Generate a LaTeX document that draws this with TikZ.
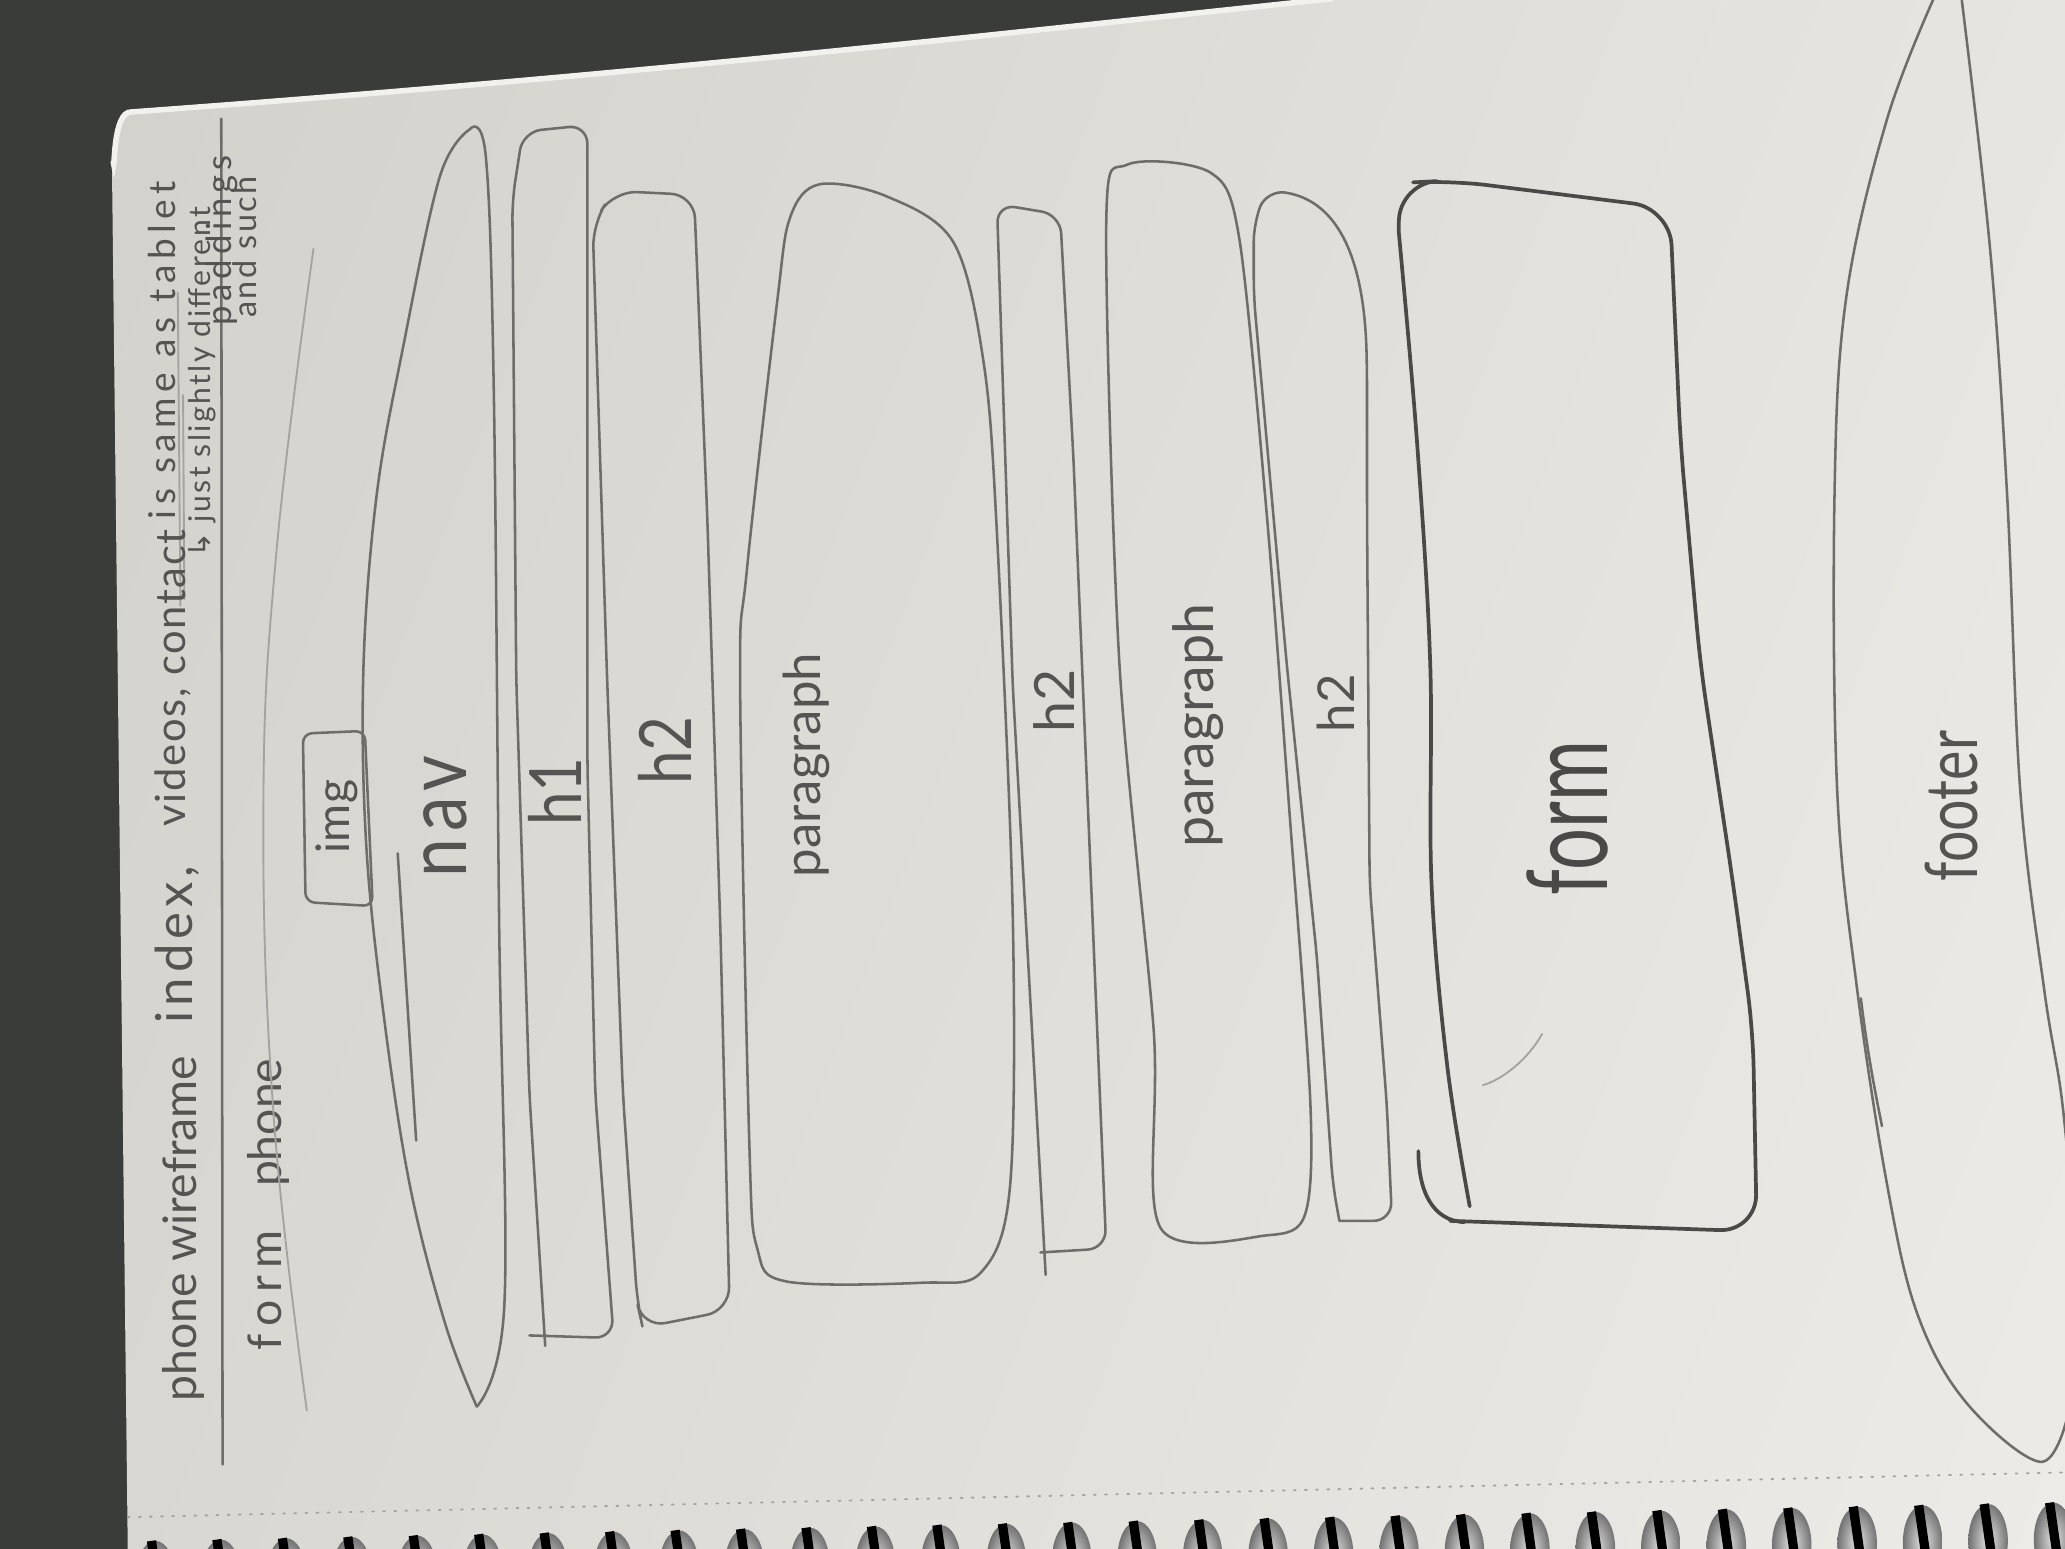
\documentclass[tikz,border=0pt]{standalone}
\usepackage{fontspec}
\setmainfont{Lato}
\newfontfamily\symfont{DejaVu Sans}
\usetikzlibrary{positioning, shadings}

\definecolor{desk}{HTML}{3A3C39}
\definecolor{paperA}{HTML}{D3D1CC}
\definecolor{paperB}{HTML}{E6E5E1}
\definecolor{paperC}{HTML}{D9D7D2}
\definecolor{paperD}{HTML}{ECEBE7}
\definecolor{pencil}{HTML}{6E6D6A}
\definecolor{pencilfaint}{HTML}{A5A39F}
\definecolor{pencildark}{HTML}{4A4947}
\definecolor{ink}{HTML}{555452}

\newcommand{\hand}[2]{\fontsize{#1}{#1}\selectfont\addfontfeatures{LetterSpace=#2}}

\tikzset{
  pencil/.style = {draw=pencil, line width=0.55pt, line cap=round, line join=round},
  faint/.style = {draw=pencilfaint, line width=0.4pt, line cap=round},
  heavy/.style = {draw=pencildark, line width=0.8pt, line cap=round, line join=round},
  note/.style = {text=ink, rotate=90, inner sep=0pt, anchor=base west},
  tag/.style = {text=ink, rotate=90, inner sep=0pt},
}

\begin{document}
\begin{tikzpicture}[x=0.1mm, y=-0.1mm]
	\useasboundingbox (0,0) rectangle (1568,1176);

	% desk and sheet
	\fill [desk] (0,0) rectangle (1568,1176);
	\shade [upper left=paperA, upper right=paperB, lower left=paperC, lower right=paperD]
		(97,1176) -- (85,125) to [out=-85, in=175] (100,84) .. controls (500,55) and (800,20) .. (1012,-2)
		-- (1568,-2) -- (1568,1176) -- cycle;
	\draw [paperD!70!white, line width=1.2pt] (86,122) to [out=-85, in=175] (100,85) .. controls (500,56) and (800,21) .. (1012,-1);
	\draw [faint, dotted] (97,1152) -- (1568,1118);

	% header notes
	\draw [pencil] (169,1112) -- (168,90);
	\draw [faint] (137,460) -- (135,222);
	\draw [faint] (140,455) -- (139,300);
	\node [note, font=\hand{10}{0}] (title) at (149,1065) {phone wireframe};
	\node [note, font=\hand{11}{10}] (pages) at (146,778) {index,};
	\node [note, font=\hand{9}{4}] (pages2) at (141,628) {videos, contact};
	\node [note, font=\hand{8}{15}] (same) at (133,395) {is same as tablet};
	\node [note, font=\hand{6.5}{8}] (diff) at (160,424) {{\symfont ↳} just slightly different};
	\node [note, font=\hand{7.5}{14}] (pad) at (176,248) {paddings};
	\node [note, font=\hand{7}{8}] (such) at (195,242) {and such};
	\node [note, font=\hand{10}{17}] (formphone) at (214,1026) {form};
	\node [note, font=\hand{10}{0}] (formphone2) at (214,902) {phone};

	% phone outline
	\draw [faint] plot [smooth, tension=0.7] coordinates {(233,1071) (208,850) (200,614) (210,418) (238,189)};

	% nav
	\draw [pencil] plot [smooth, tension=0.6] coordinates {(357,98) (334,134) (306,264) (286,376) (276,506) (278,640) (291,768) (311,899) (338,1005) (362,1068)};
	\draw [pencil] plot [smooth, tension=0.6] coordinates {(357,98) (369,120) (375,300) (379,700) (383,990) (362,1068)};
	\draw [pencil] (302,648) -- (316,866);
	\draw [pencil, rounded corners=2pt] (230,557) -- (277,555) -- (283,688) -- (232,685) -- cycle;
	\node [tag, font=\hand{10}{0}] (img) at (256,620) {img};
	\node [tag, font=\hand{15}{10}, yscale=1.2] (nav) at (338,620) {nav};

	% h1
	\draw [pencil, rounded corners=4pt] (402,1014) -- (466,1016) -- (452,831) -- (446,579) -- (446,95)
		-- (397,100) -- (389,152) -- (392,516) -- (402,831) -- (414,1022);
	\node [tag, font=\hand{13}{0}, yscale=1.2] (hone) at (421,601) {h1};

	% h2
	\draw [pencil, rounded corners=5pt] (484,990) -- (488,1008) -- (554,995) -- (547,705) -- (537,391)
		-- (527,148) -- (466,145) -- (450,170) -- (461,516) -- (473,831) -- cycle;
	\node [tag, font=\hand{13}{0}, yscale=1.2] (htwoA) at (505,570) {h2};

	% paragraph
	\draw [pencil] plot [smooth cycle, tension=0.55] coordinates {(622,140) (673,149) (724,184) (747,276) (757,405)
		(769,695) (767,900) (745,966) (700,974) (597,973) (575,948) (569,869) (562,521) (567,434) (590,230) (600,165)};
	\node [tag, font=\hand{11}{0}] (paraA) at (612,581) {paragraph};

	% h2
	\draw [pencil, rounded corners=4pt] (794,968) -- (769,521) -- (757,155) -- (805,163) -- (815,346)
		-- (840,948) -- (790,951);
	\node [tag, font=\hand{12}{0}] (htwoB) at (800,532) {h2};

	% paragraph
	\draw [pencil] plot [smooth cycle, tension=0.5] coordinates {(856,125) (919,131) (941,181) (962,392) (979,615)
		(995,838) (991,922) (962,938) (881,932) (876,782) (850,504) (840,169)};
	\node [tag, font=\hand{12}{0}] (paraB) at (910,551) {paragraph};

	% h2
	\draw [pencil, rounded corners=4pt] (1017,927) -- (1057,927) -- (1053,838) -- (1040,671) -- (1038,392)
		-- (1038,281) .. controls (1035,170) and (1000,150) .. (962,144) -- (952,169) -- (952,225)
		-- (977,504) -- (1000,727) -- (1012,899) -- (1017,927);
	\node [tag, font=\hand{11}{0}] (htwoC) at (1014,534) {h2};

	% form
	\draw [heavy] plot [smooth, tension=0.6] coordinates {(1116,916) (1099,810) (1087,671) (1086,504) (1076,336) (1062,175)};
	\draw [heavy, rounded corners=8pt] (1062,175) -- (1063,139) -- (1101,137) -- (1268,158) -- (1276,336)
		-- (1291,504) -- (1316,671) -- (1331,782) -- (1334,935) -- (1101,927);
	\draw [heavy] (1077,874) .. controls (1077,905) and (1088,927) .. (1112,928);
	\draw [faint] (1126,824) .. controls (1140,820) and (1160,805) .. (1171,785);
	\node [tag, text=pencildark, font=\hand{16}{0}, yscale=1.5] (form) at (1190,621) {form};

	% footer
	\draw [pencil] plot [smooth, tension=0.6] coordinates {(1470,-5) (1433,90) (1402,225) (1393,375) (1395,600)
		(1410,750) (1433,900) (1456,998) (1493,1065) (1549,1110) (1570,1075)};
	\draw [pencil] plot [smooth, tension=0.6] coordinates {(1489,-5) (1511,188) (1524,375) (1534,600) (1552,750) (1565,830) (1572,900)};
	\draw [pencil] (1413,758) .. controls (1418,800) and (1424,830) .. (1429,855);
	\node [tag, font=\hand{12}{0}, yscale=1.3] (footer) at (1482,612) {footer};

	% spiral binding
	\foreach \i in {0,...,29} {
		\pgfmathsetmacro{\rx}{118+49.7*\i}
		\pgfmathsetmacro{\ry}{1198-1.0*\i}
		\shade [inner color=black!10, outer color=black!55] (\rx,\ry) ellipse [x radius=1.5mm, y radius=2.8mm];
		\draw [black, line width=2pt] (\rx-3,\ry-28) -- (\rx+5,\ry+28);
	}
\end{tikzpicture}
\end{document}
